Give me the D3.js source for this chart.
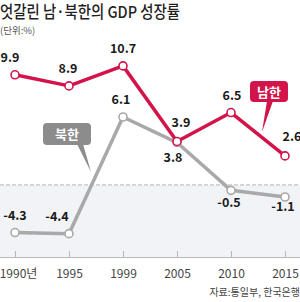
<!DOCTYPE html>
<html>
<head>
<meta charset="utf-8">
<script src="https://cdn.jsdelivr.net/npm/d3@7"></script>
<style>
  body { margin: 0; background: #fff; }
  text { font-family: "Noto Sans CJK KR", "Noto Sans", sans-serif; }
</style>
</head>
<body>
<div id="chart"></div>
<script>
// data
var years = ["1990", "1995", "1999", "2005", "2010", "2015"];
var yearLabels = ["1990년", "1995", "1999", "2005", "2010", "2015"];
var south = [9.9, 8.9, 10.7, 3.9, 6.5, 2.6];
var north = [-4.3, -4.4, 6.1, 3.8, -0.5, -1.1];
// label offsets [dx, dy] relative to the point
var southOff = [[-5, -13], [-1, -13], [0, -13], [4, -14], [1, -13], [7, -15]];
var northOff = [[0, -13], [-12, -13], [-2, -13], [-4, 19], [-2, 17], [-2, 14]];

var width = 300, height = 302;
var red = "#d3144b", grey = "#a9a9a9";

var svg = d3.select("#chart").append("svg")
    .attr("width", width)
    .attr("height", height);

var x = d3.scalePoint().domain(years).range([15, 285]);
var y = d3.scaleLinear().domain([-6.5, 11.5]).range([257, 57]);

// title
svg.append("text")
    .attr("x", 0).attr("y", 18)
    .attr("font-size", 16.5).attr("font-weight", 500)
    .attr("fill", "#222")
    .attr("textLength", 180).attr("lengthAdjust", "spacingAndGlyphs")
    .text("엇갈린 남·북한의 GDP 성장률");

svg.append("text")
    .attr("x", 0).attr("y", 34)
    .attr("font-size", 9.5).attr("fill", "#555")
    .text("(단위:%)");

// shaded band below zero
svg.append("rect")
    .attr("x", 0).attr("y", y(0))
    .attr("width", width).attr("height", y(-6.5) - y(0))
    .attr("fill", "#f2f3f6");

svg.append("line")
    .attr("x1", 0).attr("x2", width)
    .attr("y1", y(0)).attr("y2", y(0))
    .attr("stroke", "#c4c4c8").attr("stroke-width", 1.2)
    .attr("stroke-dasharray", "4,2");

// x axis
var xAxis = svg.append("g")
    .attr("transform", "translate(0," + y(-6.5) + ")")
    .call(d3.axisBottom(x).tickSizeInner(-6).tickSizeOuter(0).tickFormat(function(d, i) { return yearLabels[i]; }));
xAxis.select(".domain").attr("stroke", "#b8b8b8").attr("d", "M0,0.5H" + width);
xAxis.selectAll(".tick line").attr("stroke", "#b8b8b8");
xAxis.selectAll(".tick text")
    .attr("y", 12).attr("dy", "0.71em")
    .attr("font-size", 12).attr("fill", "#444")
    .style("font-family", "Noto Sans CJK KR")
    .attr("dx", function(d, i) { return i == 0 ? 3 : 0; });

// source
svg.append("text")
    .attr("x", 300).attr("y", 296)
    .attr("text-anchor", "end")
    .attr("font-size", 10).attr("fill", "#444")
    .text("자료:통일부, 한국은행");

// callout boxes
function callout(bx, by, bw, bh, tip, base, col, label) {
    svg.append("path")
        .attr("d", "M" + (base - 3) + "," + (by + bh - 1) + "L" + tip[0] + "," + tip[1] + "L" + (base + 3) + "," + (by + bh - 1) + "Z")
        .attr("fill", col);
    svg.append("rect")
        .attr("x", bx).attr("y", by)
        .attr("width", bw).attr("height", bh)
        .attr("rx", 4)
        .attr("fill", col);
    svg.append("text")
        .attr("x", bx + bw / 2).attr("y", by + bh / 2 + 5)
        .attr("text-anchor", "middle")
        .attr("font-size", 13).attr("font-weight", 700)
        .attr("fill", "#fff")
        .text(label);
}
callout(43, 123, 48, 22, [91, 172], 80, "#8c8c8c", "북한");

var line = d3.line()
    .x(function(d, i) { return x(years[i]); })
    .y(function(d) { return y(d); });

function drawSeries(vals, col, offs) {
    svg.append("path")
        .datum(vals)
        .attr("d", line)
        .attr("fill", "none")
        .attr("stroke", col)
        .attr("stroke-width", 3.5)
        .attr("stroke-linejoin", "round");
    svg.selectAll(null)
        .data(vals)
        .enter()
        .append("circle")
        .attr("cx", function(d, i) { return x(years[i]); })
        .attr("cy", function(d) { return y(d); })
        .attr("r", 4)
        .attr("fill", "#fff")
        .attr("stroke", col)
        .attr("stroke-width", 1.6);
    svg.selectAll(null)
        .data(vals)
        .enter()
        .append("text")
        .attr("x", function(d, i) { return x(years[i]) + offs[i][0]; })
        .attr("y", function(d, i) { return y(d) + offs[i][1]; })
        .attr("text-anchor", "middle")
        .attr("font-size", 12.5).attr("font-weight", 700)
        .attr("fill", "#1a1a1a")
        .text(function(d) { return d < 0 ? "-" + Math.abs(d) : d; });
}

drawSeries(north, grey, northOff);
drawSeries(south, red, southOff);

callout(250, 81, 38, 21, [262, 132], 270, red, "남한");
</script>
</body>
</html>
